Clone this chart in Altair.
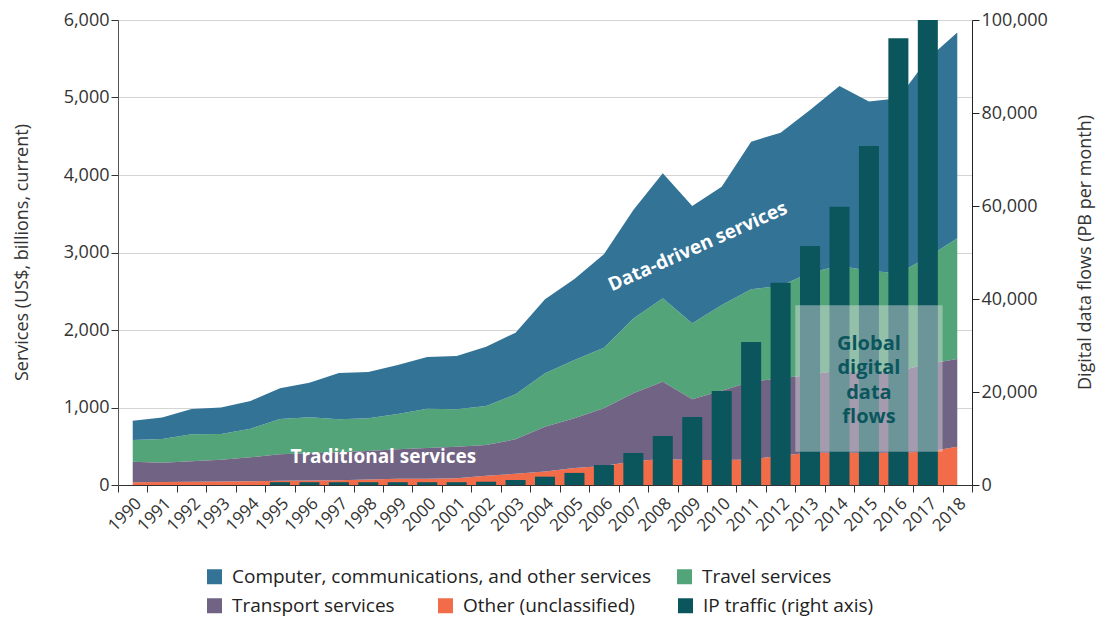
import altair as alt
import pandas as pd

FONT = "Open Sans"

years = [str(y) for y in range(1990, 2019)]

computer = [250, 276, 326, 342, 358, 396, 447, 598, 598, 632, 667, 689, 766, 795, 955,
            1045, 1205, 1398, 1613, 1514, 1526, 1905, 1976, 2099, 2318, 2185, 2258, 2560, 2655]
travel = [279, 306, 349, 331, 370, 456, 464, 425, 421, 456, 507, 481, 503, 581, 688,
          753, 783, 967, 1076, 981, 1106, 1192, 1194, 1320, 1350, 1325, 1261, 1380, 1559]
transport = [266, 250, 263, 282, 309, 341, 352, 362, 369, 380, 398, 409, 396, 444, 578,
             640, 744, 878, 998, 783, 895, 1003, 996, 1005, 1062, 1028, 1050, 1130, 1131]
other = [35, 38, 42, 45, 48, 55, 57, 60, 70, 80, 80, 86, 120, 145, 175,
         220, 245, 305, 335, 322, 322, 330, 380, 415, 418, 412, 420, 430, 495]
ip_traffic = [None, None, None, None, None, 600, 600, 600, 600, 600, 600, 600, 700,
              1075, 1790, 2600, 4300, 6880, 10540, 14650, 20200, 30750, 43500, 51400,
              59850, 72900, 96050, 100000, None]

N_COMP = "Computer, communications, and other services"
N_TRAV = "Travel services"
N_TRAN = "Transport services"
N_OTH = "Other (unclassified)"
N_IP = "IP traffic (right axis)"

C_COMP = "#337395"
C_TRAV = "#53a579"
C_TRAN = "#716383"
C_OTH = "#f26c4a"
C_IP = "#0b565d"

rows = []
for k, (name, vals) in enumerate([(N_OTH, other), (N_TRAN, transport), (N_TRAV, travel), (N_COMP, computer)]):
    for y, v in zip(years, vals):
        rows.append({"year": y, "series": name, "value": v, "order": k})
area_df = pd.DataFrame(rows)

ip_df = pd.DataFrame({"year": years, "series": N_IP, "value": ip_traffic}).dropna()

one = pd.DataFrame({"k": [0]})

x_scale = alt.Scale(type="band", domain=years, paddingInner=0, paddingOuter=0)
x_axis = alt.Axis(title=None, labelAngle=315, tickBand="extent", labelFontSize=17,
                  labelColor="#333", labelFont=FONT, tickColor="#333", tickSize=7,
                  domainColor="#333", labelPadding=3, grid=False)
xenc = alt.X("year:O", scale=x_scale, axis=x_axis)

y_left_scale = alt.Scale(domain=[0, 6000], nice=False, zero=True)
y_left_axis = alt.Axis(title="Services (US$, billions, current)", values=[0, 1000, 2000, 3000, 4000, 5000, 6000],
                       format=",d", grid=True, gridColor="#d4d4d4", labelFontSize=18, labelColor="#333",
                       titleFontSize=18, titleFontWeight="normal", titleColor="#333", tickColor="#333",
                       tickSize=7, domainColor="#555", labelFont=FONT, titleFont=FONT,
                       titleX=-96, titleY=232, titleAngle=270, titleAlign="center", titleBaseline="middle")

y_right_axis = alt.Axis(orient="right", title="Digital data flows (PB per month)",
                        values=[0, 20000, 40000, 60000, 80000, 100000], format=",d", grid=False,
                        labelFontSize=18, labelColor="#333", titleFontSize=18, titleFontWeight="normal",
                        titleColor="#333", tickColor="#222", tickSize=7, domainColor="#222",
                        labelFont=FONT, titleFont=FONT, titleAngle=270, titleX=113, titleY=232,
                        titleAlign="center", titleBaseline="middle")

leg_common = dict(orient="none", direction="horizontal", title=None, symbolType="square",
                  symbolSize=225, symbolStrokeWidth=0, symbolOpacity=1, labelFontSize=19,
                  labelFont=FONT, labelColor="#222", labelOffset=8, labelLimit=700)

color_enc = alt.Color("series:N",
                      scale=alt.Scale(domain=[N_COMP, N_TRAV], range=[C_COMP, C_TRAV]),
                      legend=alt.Legend(legendX=87, legendY=547, columnPadding=24, **leg_common))
fill_scale = alt.Scale(domain=[N_TRAN, N_OTH, N_IP], range=[C_TRAN, C_OTH, C_IP])
fill_legend = alt.Legend(legendX=87, legendY=576, columnPadding=41, **leg_common)

base = alt.Chart(area_df).transform_stack(
    stack="value", groupby=["year"], as_=["y0", "y1"],
    sort=[alt.SortField("order", order="ascending")]
)

area_top = base.transform_filter(
    alt.FieldOneOfPredicate(field="series", oneOf=[N_COMP, N_TRAV])
).mark_area(opacity=1, interpolate="linear").encode(
    x=xenc,
    y=alt.Y("y1:Q", scale=y_left_scale, axis=y_left_axis),
    y2="y0:Q",
    color=color_enc,
)

area_bot = base.transform_filter(
    alt.FieldOneOfPredicate(field="series", oneOf=[N_TRAN, N_OTH])
).mark_area(opacity=1, interpolate="linear").encode(
    x=xenc,
    y=alt.Y("y1:Q", scale=y_left_scale, axis=y_left_axis),
    y2="y0:Q",
    fill=alt.Fill("series:N", scale=fill_scale, legend=fill_legend),
)

areas = alt.layer(area_top, area_bot)

bars = alt.Chart(ip_df).mark_bar(width={"band": 0.68}).encode(
    x=xenc,
    y=alt.Y("value:Q", scale=alt.Scale(domain=[0, 100000], nice=False), axis=y_right_axis),
    fill=alt.Fill("series:N", scale=fill_scale, legend=fill_legend),
)

y_ann_scale = alt.Scale(domain=[0, 6000], nice=False)

box = alt.Chart(one).mark_rect(color="#e2e2e2", opacity=0.45).encode(
    x=alt.XDatum("2013", type="ordinal", bandPosition=0, scale=x_scale, axis=x_axis),
    x2=alt.X2Datum("2017", bandPosition=1),
    y=alt.YDatum(2320, scale=y_ann_scale, axis=None),
    y2=alt.Y2Datum(430),
)

trad = alt.Chart(one).mark_text(text="Traditional services", font=FONT, fontSize=19,
                                fontWeight="bold", color="white", dx=15).encode(
    x=alt.XDatum("1998", type="ordinal", scale=x_scale, axis=x_axis),
    y=alt.YDatum(361, scale=y_ann_scale, axis=None),
)

data_driven = alt.Chart(one).mark_text(text="Data-driven services", font=FONT, fontSize=19,
                                       fontWeight="bold", color="white", angle=336, dx=6).encode(
    x=alt.XDatum("2009", type="ordinal", scale=x_scale, axis=x_axis),
    y=alt.YDatum(3045, scale=y_ann_scale, axis=None),
)

flows = alt.Chart(one).mark_text(text=["Global", "digital", "data", "flows"], font=FONT, fontSize=20,
                                 fontWeight="bold", color=C_IP, lineHeight=24.5, baseline="middle").encode(
    x=alt.XDatum("2015", type="ordinal", scale=x_scale, axis=x_axis),
    y=alt.YDatum(1820, scale=y_ann_scale, axis=None),
)

ann = alt.layer(box, trad, data_driven, flows)

chart = alt.layer(areas, bars, ann).resolve_scale(y="independent").properties(
    width=854, height=465,
).properties(
    autosize=alt.AutoSizeParams(type="none"),
    padding={"left": 110, "top": 12, "right": 126, "bottom": 133},
).configure_view(stroke=None).configure(font=FONT)

chart.save("out.html", embed_options={"renderer": "svg", "actions": False})
